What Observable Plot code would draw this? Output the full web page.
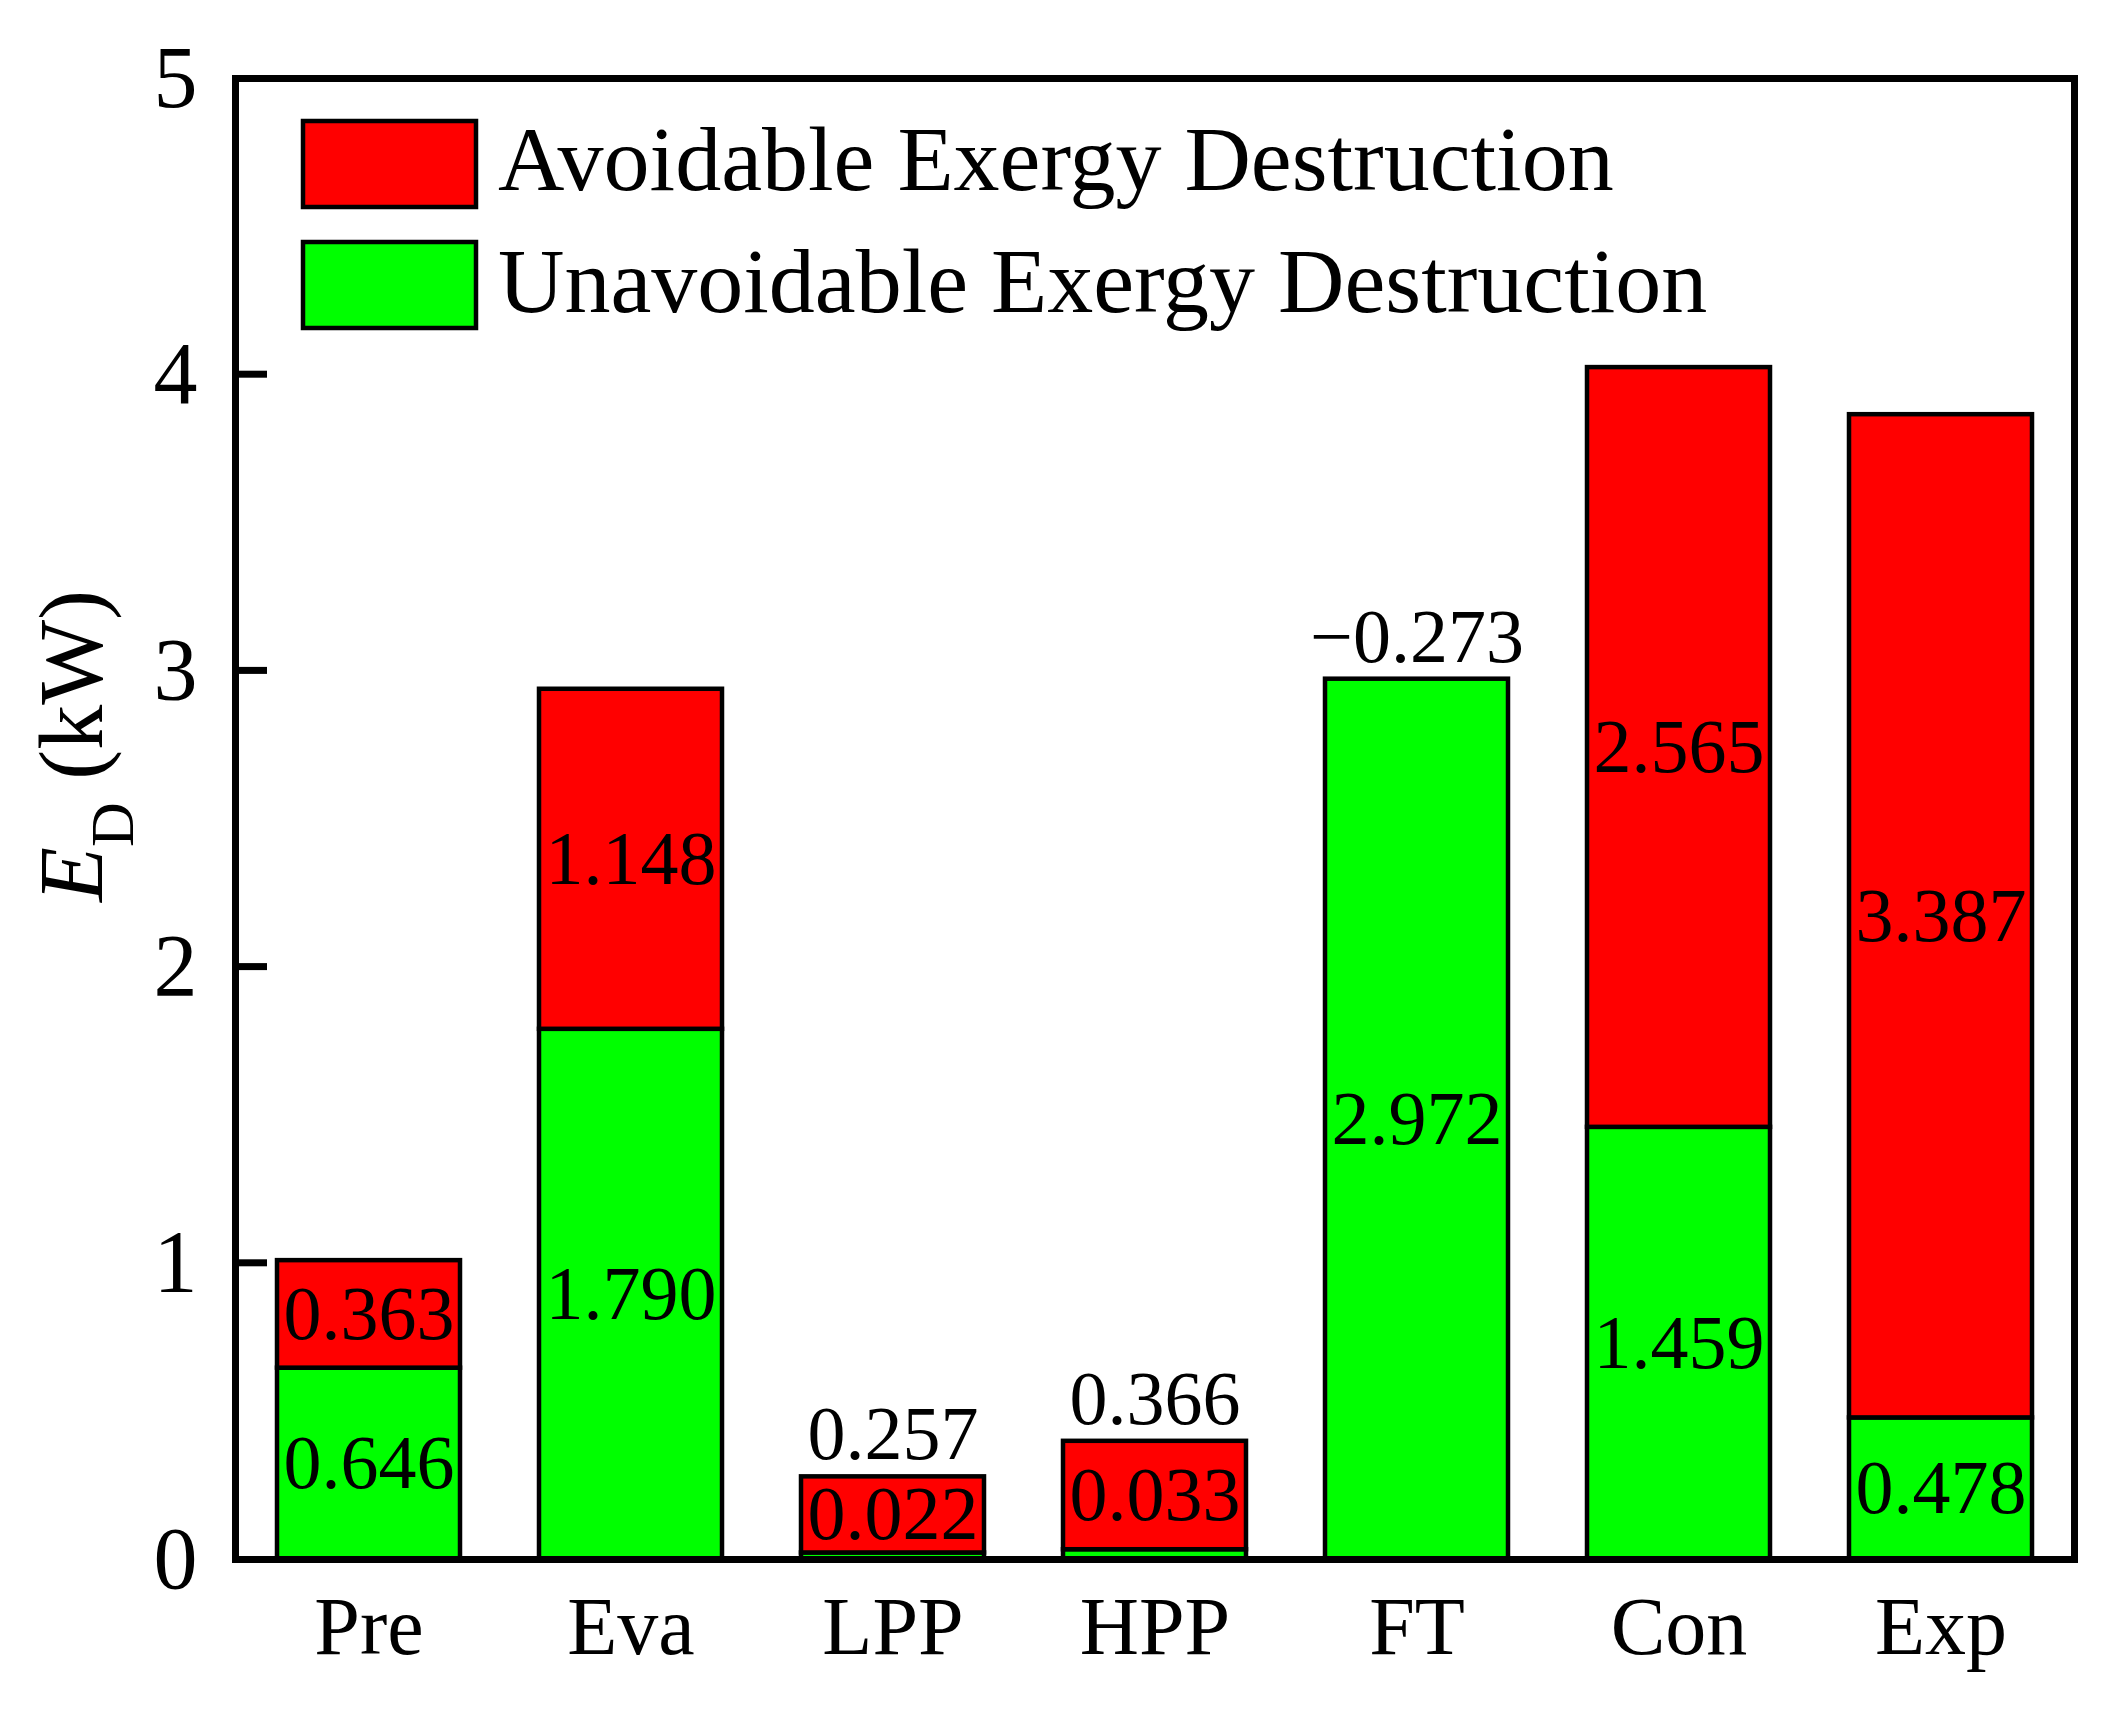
<!DOCTYPE html>
<html><head><meta charset="utf-8">
<script src="https://cdn.jsdelivr.net/npm/d3@7"></script>
<script src="https://cdn.jsdelivr.net/npm/@observablehq/plot@0.6"></script>
<style>body{margin:0;background:#fff;overflow:hidden}</style>
</head><body><div id="chart"></div>
<script>
const categories = ["Pre", "Eva", "LPP", "HPP", "FT", "Con", "Exp"];
const unavoidable = [0.646, 1.790, 0.022, 0.033, 2.972, 1.459, 0.478];
const avoidable = [0.363, 1.148, 0.257, 0.366, -0.273, 2.565, 3.387];
const labelsU = ["0.646", "1.790", "0.022", "0.033", "2.972", "1.459", "0.478"];
const labelsA = ["0.363", "1.148", "0.257", "0.366", "\u22120.273", "2.565", "3.387"];
const yTicks = [0, 1, 2, 3, 4, 5];
const innerTicks = [1, 2, 3, 4];
const seriesNames = ["Avoidable Exergy Destruction", "Unavoidable Exergy Destruction"];
const seriesColors = ["#ff0000", "#00ff00"];

const FONT = "'Liberation Serif', 'Times New Roman', serif";

const bars = [];
categories.forEach((c, i) => {
  const u = unavoidable[i], a = avoidable[i];
  bars.push({cat: c, series: seriesNames[1], y1: 0, y2: u});
  if (a > 0) bars.push({cat: c, series: seriesNames[0], y1: u, y2: u + a});
});

const inside = [], above = [];
categories.forEach((c, i) => {
  const u = unavoidable[i], a = avoidable[i];
  const tiny = u < 0.1;
  const top = u + Math.max(a, 0);
  inside.push({cat: c, y: tiny ? u + a / 2 : u / 2, text: labelsU[i]});
  if (tiny || a < 0) above.push({cat: c, y: top, text: labelsA[i]});
  else inside.push({cat: c, y: u + a / 2, text: labelsA[i]});
});

const W = 2111, ML = 235, MR = 37, TICK = 32;

const chart = Plot.plot({
  width: W,
  height: 1709,
  marginTop: 78,
  marginBottom: 150,
  marginLeft: ML,
  marginRight: MR,
  style: {fontFamily: FONT, background: "#fff", color: "#000"},
  x: {domain: categories, paddingInner: 0.3, paddingOuter: 0.15, label: null},
  y: {domain: [0, 5], label: null},
  color: {domain: seriesNames, range: seriesColors},
  marks: [
    Plot.rectY(bars, {x: "cat", y1: "y1", y2: "y2", fill: "series", stroke: "#000", strokeWidth: 4.5}),
    Plot.text(inside, {x: "cat", y: "y", text: "text", fontSize: 76, fill: "#000"}),
    Plot.text(above, {x: "cat", y: "y", text: "text", fontSize: 76, fill: "#000", dy: -42}),
    Plot.axisX({tickSize: 0, tickPadding: 36, fontSize: 82, label: null}),
    Plot.axisY({ticks: yTicks, tickSize: 0, tickPadding: 38, fontSize: 88, label: null, tickFormat: d => String(d)}),
    Plot.frame({stroke: "#000", strokeWidth: 7})
  ]
});

const svg = d3.select(chart);
const yScale = chart.scale("y");

const lg = svg.append("g").attr("text-anchor", "start");
seriesNames.forEach((name, i) => {
  lg.append("rect")
    .attr("x", 303).attr("y", 121 + i * 121)
    .attr("width", 173).attr("height", 86)
    .attr("fill", seriesColors[i]).attr("stroke", "#000").attr("stroke-width", 4.5);
  lg.append("text")
    .attr("x", 498).attr("y", 190 + i * 122)
    .attr("text-anchor", "start")
    .attr("font-family", FONT).attr("font-size", 92).attr("fill", "#000")
    .text(name);
});

const t = svg.append("text")
  .attr("transform", "translate(102,746) rotate(-90)")
  .attr("text-anchor", "middle")
  .attr("font-family", FONT).attr("font-size", 90).attr("fill", "#000");
t.append("tspan").attr("font-style", "italic").text("E");
t.append("tspan").attr("font-size", 62).attr("dy", 31).text("D");
t.append("tspan").attr("dy", -31).text(" (kW)");

// inward ticks on the left frame, drawn as filled rects positioned by Plot's y scale
const tg = svg.append("g");
innerTicks.forEach(v => {
  const yy = yScale.apply(v);
  tg.append("rect")
    .attr("x", ML).attr("y", yy - 3.5)
    .attr("width", TICK).attr("height", 7)
    .attr("fill", "#000").attr("stroke", "none");
});

document.getElementById("chart").appendChild(chart);
</script>
</body></html>
